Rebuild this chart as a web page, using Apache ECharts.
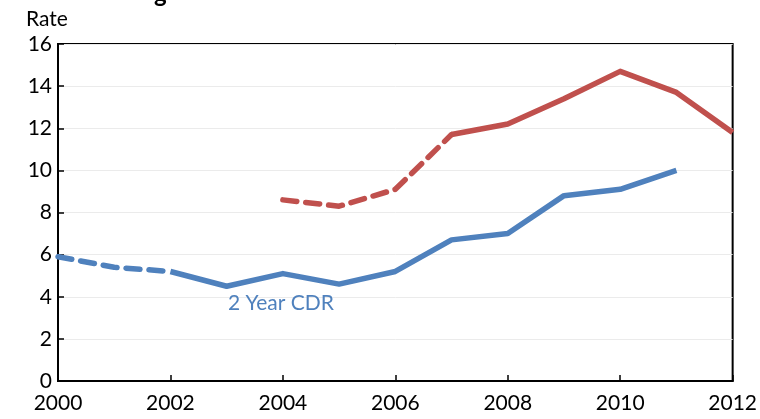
<!DOCTYPE html>
<html>
<head>
<meta charset="utf-8">
<script src="https://cdn.jsdelivr.net/npm/echarts@6/dist/echarts.min.js"></script>
<style>
  html, body { margin: 0; padding: 0; background: #fff; }
  #chart { width: 760px; height: 419px; }
</style>
</head>
<body>
<div id="chart"></div>
<script>
// data
const years = [2000, 2001, 2002, 2003, 2004, 2005, 2006, 2007, 2008, 2009, 2010, 2011, 2012];
const cdr2 = [5.9, 5.4, 5.2, 4.5, 5.1, 4.6, 5.2, 6.7, 7.0, 8.8, 9.1, 10.0, null];
const cdr2DashedEnd = 2; // index where the dashed part stops
const other = [null, null, null, null, 8.6, 8.3, 9.1, 11.7, 12.2, 13.4, 14.7, 13.7, 11.8];
const otherDashedEnd = 7;
const yTicks = [0, 2, 4, 6, 8, 10, 12, 14, 16];

const blue = '#4F81BD';
const red = '#C0504D';
const font = 'Lato, "Open Sans", sans-serif';

function part(vals, from, to) {
  const out = [];
  for (let i = 0; i < years.length; i++) {
    if (i >= from && i <= to && vals[i] != null) out.push([years[i], vals[i]]);
  }
  return out;
}

function line(data, color, dashed) {
  return {
    type: 'line',
    data: data,
    symbol: 'none',
    silent: true,
    lineStyle: {
      color: color,
      width: 5.5,
      type: dashed ? [14, 9] : 'solid',
      cap: dashed ? 'round' : 'butt',
      join: 'round'
    }
  };
}

const chart = echarts.init(document.getElementById('chart'));

chart.setOption({
  animation: false,
  grid: {
    left: 58, right: 25, top: 44, bottom: 38,
    show: true, borderColor: '#000', borderWidth: 2, backgroundColor: 'transparent'
  },
  xAxis: {
    type: 'value',
    min: 2000, max: 2012, interval: 2,
    axisLine: { lineStyle: { color: '#000', width: 2 } },
    axisTick: { inside: true, length: 6, lineStyle: { color: '#000', width: 1.5 } },
    splitLine: { show: false },
    axisLabel: { color: '#000', fontSize: 21, fontFamily: font, margin: 12, formatter: v => String(v) }
  },
  yAxis: {
    type: 'value',
    min: yTicks[0], max: yTicks[yTicks.length - 1], interval: 2,
    name: 'Rate',
    nameLocation: 'end',
    nameGap: 14,
    nameTextStyle: { color: '#000', fontSize: 21, fontFamily: font, align: 'center', padding: [0, 0, 0, -22] },
    axisLine: { show: true, lineStyle: { color: '#000', width: 2 } },
    axisTick: { show: true, inside: true, length: 6, lineStyle: { color: '#000', width: 1.5 } },
    splitLine: { lineStyle: { color: '#ebebeb', width: 1 } },
    axisLabel: { color: '#000', fontSize: 21, fontFamily: font, margin: 6 }
  },
  series: [
    line(part(cdr2, 0, cdr2DashedEnd), blue, true),
    line(part(cdr2, cdr2DashedEnd, years.length - 1), blue, false),
    line(part(other, 0, otherDashedEnd), red, true),
    line(part(other, otherDashedEnd, years.length - 1), red, false)
  ]
});

// series label and the clipped title above the plot
const lp = chart.convertToPixel({ gridIndex: 0 }, [2004, 3.55]);
chart.setOption({
  graphic: [
    {
      type: 'text', left: lp[0] - 55, top: lp[1] - 13,
      style: { text: '2 Year CDR', fill: blue, font: '21px ' + font }
    },
    {
      type: 'text', x: 154, y: -18,
      style: { text: 'g', fill: '#000', font: 'bold 24px ' + font }
    }
  ]
});
</script>
</body>
</html>
